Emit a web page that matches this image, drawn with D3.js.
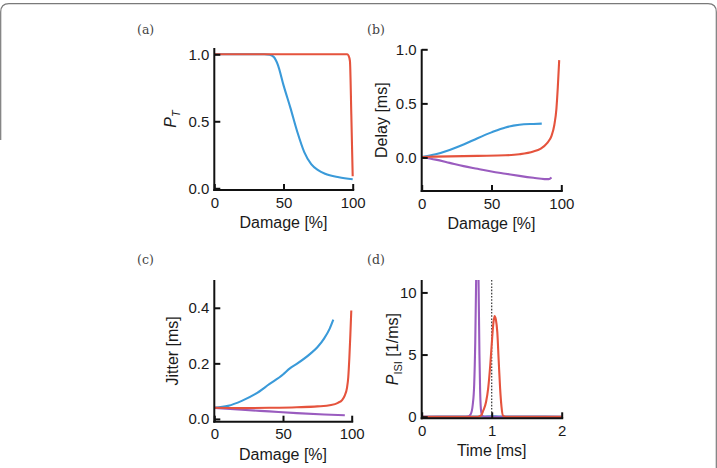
<!DOCTYPE html>
<html>
<head>
<meta charset="utf-8">
<script src="https://d3js.org/d3.v7.min.js"></script>
<style>
  body { margin: 0; background: #fff; }
  svg { display: block; font-family: "Liberation Sans", Arial, sans-serif; }
  .tick text { font-size: 15px; fill: #1a1a1a; }
  .tick line { stroke: #111; stroke-width: 2; }
  .lbl { font-size: 16px; fill: #1a1a1a; }
  .panel { font-family: "DejaVu Serif", serif; font-size: 12.5px; fill: #444; }
</style>
</head>
<body>
<svg width="717" height="468"></svg>
<script>
// colours of the three fibre types
var BLUE = "#3a9ad9", RED = "#e5533d", PURPLE = "#9a5cbf";

// (a) transmission probability vs damage
var aBlue = [[0,1],[36,1],[40,0.997],[43,0.98],[46,0.92],[50,0.77],[55,0.6],[60,0.42],[65,0.27],[70,0.18],[75,0.135],[80,0.108],[90,0.082],[100,0.067]];
var aRed  = [[0,1],[96,1],[97,0.99],[98,0.95],[99,0.55],[100,0.09]];

// (b) delay vs damage
var bBlue   = [[0,0.005],[10,0.03],[20,0.07],[30,0.12],[40,0.178],[50,0.232],[60,0.278],[70,0.302],[80,0.31],[86,0.313]];
var bRed    = [[0,0.005],[20,0.01],[40,0.015],[60,0.02],[70,0.03],[80,0.055],[85,0.08],[90,0.135],[93,0.2],[95,0.3],[96.5,0.45],[97.5,0.65],[98.5,0.9]];
var bPurple = [[0,0.005],[10,-0.02],[20,-0.05],[30,-0.08],[40,-0.105],[50,-0.13],[60,-0.15],[70,-0.17],[80,-0.188],[88,-0.2],[91,-0.2],[93,-0.185]];

// (c) jitter vs damage
var cBlue   = [[0,0.04],[10,0.047],[20,0.065],[30,0.09],[40,0.125],[50,0.16],[55,0.182],[60,0.198],[70,0.235],[75,0.258],[80,0.29],[84,0.325],[86.6,0.357]];
var cRed    = [[0,0.04],[20,0.039],[40,0.04],[60,0.042],[75,0.045],[85,0.05],[90,0.058],[93,0.068],[95,0.085],[96.5,0.11],[97.5,0.15],[98.3,0.22],[99,0.3],[99.7,0.39]];
var cPurple = [[0,0.04],[20,0.033],[40,0.027],[60,0.021],[80,0.016],[95,0.013]];

// (d) inter-spike interval distributions
var dBlue   = [[0,0],[0.5,0.01],[0.9,0.02],[1,0.03],[1.1,0.02],[1.5,0.01],[2,0]];
var dPurple = [[0,0],[0.6,0],[0.66,0.02],[0.7,0.2],[0.73,1],[0.75,2.6],[0.765,6],[0.78,12],[0.79,16],[0.8,16],[0.81,12],[0.825,5],[0.835,2],[0.85,0.4],[0.87,0.05],[0.9,0],[2,0]];
var dRed    = [[0,0],[0.8,0],[0.85,0.1],[0.88,0.5],[0.92,1.2],[0.95,2.3],[0.98,4.2],[1,5.8],[1.02,7.3],[1.04,8.1],[1.06,7.8],[1.08,6.8],[1.1,4.5],[1.12,2.3],[1.14,0.8],[1.16,0.1],[1.2,0],[2,0]];

var svg = d3.select("svg");

// figure frame
svg.append("path")
  .attr("d", "M0.7,140 V12 Q0.7,3.7 9,3.7 H708 Q716.3,3.7 716.3,12 V470")
  .attr("fill", "none").attr("stroke", "#7a7a7a").attr("stroke-width", 1.2);

function panel(cfg) {
  var x = d3.scaleLinear().domain(cfg.xd).range(cfg.xr);
  var y = d3.scaleLinear().domain(cfg.yd).range(cfg.yr);
  var g = svg.append("g");
  var id = "clip-" + cfg.key;
  svg.append("clipPath").attr("id", id).append("rect")
    .attr("x", cfg.xr[0]).attr("y", cfg.yr[1])
    .attr("width", cfg.xr[1] - cfg.xr[0] + 4).attr("height", cfg.yr[0] - cfg.yr[1]);

  var line = d3.line().x(function(d){return x(d[0])}).y(function(d){return y(d[1])}).curve(d3.curveMonotoneX);
  var plot = g.append("g").attr("clip-path", "url(#" + id + ")");
  if (cfg.dotted) {
    plot.append("line").attr("x1", x(cfg.dotted)).attr("x2", x(cfg.dotted))
      .attr("y1", cfg.yr[1]).attr("y2", cfg.yr[0])
      .attr("stroke", "#333").attr("stroke-width", 1.2).attr("stroke-dasharray", "1.6,1.6");
  }
  cfg.series.forEach(function(s) {
    plot.append("path").datum(s.data).attr("d", line)
      .attr("fill", "none").attr("stroke", s.color).attr("stroke-width", 2.1);
  });

  // axes, ticks pointing inward
  g.append("g").attr("transform", "translate(" + cfg.xr[0] + ",0)")
    .call(d3.axisLeft(y).tickValues(cfg.yt).tickFormat(cfg.yf).tickSizeInner(-6).tickSizeOuter(0).tickPadding(5))
    .call(function(a){ a.select(".domain").remove(); a.attr("font-family", null).attr("font-size", null); });
  g.append("g").attr("transform", "translate(0," + cfg.yr[0] + ")")
    .call(d3.axisBottom(x).tickValues(cfg.xt).tickFormat(d3.format("d")).tickSizeInner(-6).tickSizeOuter(0).tickPadding(7))
    .call(function(a){ a.select(".domain").remove(); a.attr("font-family", null).attr("font-size", null); });

  // spines
  g.append("line").attr("x1", cfg.xr[0]).attr("x2", cfg.xr[0]).attr("y1", cfg.yr[1]).attr("y2", cfg.yr[0] + 1)
    .attr("stroke", "#111").attr("stroke-width", 2);
  g.append("line").attr("x1", cfg.xr[0] - 1).attr("x2", cfg.xr[1] + 1.5).attr("y1", cfg.yr[0]).attr("y2", cfg.yr[0])
    .attr("stroke", "#111").attr("stroke-width", 2);

  // labels
  var midX = (cfg.xr[0] + cfg.xr[1]) / 2, midY = (cfg.yr[0] + cfg.yr[1]) / 2;
  g.append("text").attr("class", "lbl").attr("x", midX).attr("y", cfg.yr[0] + 38)
    .attr("text-anchor", "middle").text(cfg.xlab);
  var yl = g.append("text").attr("class", "lbl").attr("text-anchor", "middle")
    .attr("transform", "translate(" + (cfg.xr[0] - cfg.ylOff) + "," + midY + ") rotate(-90)");
  cfg.ylab(yl);
  svg.append("text").attr("class", "panel").attr("x", cfg.px).attr("y", cfg.py).text("(" + cfg.key + ")");
}

function fmt1(d) { return d3.format(".1f")(d); }

panel({
  key: "a", px: 137, py: 34,
  xd: [0, 100], xr: [214.3, 352.7], yd: [-0.013, 1.047], yr: [190, 48],
  xt: [0, 50, 100], yt: [0, 0.5, 1], yf: fmt1,
  xlab: "Damage [%]", ylOff: 38,
  ylab: function(t) {
    t.append("tspan").attr("font-style", "italic").text("P");
    t.append("tspan").attr("font-style", "italic").attr("font-size", "11px").attr("dy", 4).text("T");
  },
  series: [{data: aBlue, color: BLUE}, {data: aRed, color: RED}]
});

panel({
  key: "b", px: 367, py: 34,
  xd: [0, 100], xr: [421.7, 561.3], yd: [-0.31, 1.0], yr: [191, 49.3],
  xt: [0, 50, 100], yt: [0, 0.5, 1], yf: fmt1,
  xlab: "Damage [%]", ylOff: 35,
  ylab: function(t) { t.text("Delay [ms]"); },
  series: [{data: bBlue, color: BLUE}, {data: bPurple, color: PURPLE}, {data: bRed, color: RED}]
});

panel({
  key: "c", px: 137, py: 264,
  xd: [0, 100], xr: [214.3, 351.7], yd: [-0.01, 0.5], yr: [421.7, 280],
  xt: [0, 50, 100], yt: [0, 0.2, 0.4], yf: fmt1,
  xlab: "Damage [%]", ylOff: 36,
  ylab: function(t) { t.text("Jitter [ms]"); },
  series: [{data: cBlue, color: BLUE}, {data: cPurple, color: PURPLE}, {data: cRed, color: RED}]
});

panel({
  key: "d", px: 367, py: 264,
  xd: [0, 2], xr: [421.7, 561.7], yd: [-0.13, 11], yr: [418.3, 280],
  xt: [0, 1, 2], yt: [0, 5, 10], yf: d3.format("d"),
  xlab: "Time [ms]", ylOff: 24, dotted: 1,
  ylab: function(t) {
    t.append("tspan").attr("font-style", "italic").text("P");
    t.append("tspan").attr("font-size", "11px").attr("dy", 4).text("ISI");
    t.append("tspan").attr("dy", -4).text(" [1/ms]");
  },
  series: [{data: dBlue, color: BLUE}, {data: dPurple, color: PURPLE}, {data: dRed, color: RED}]
});
</script>
</body>
</html>
